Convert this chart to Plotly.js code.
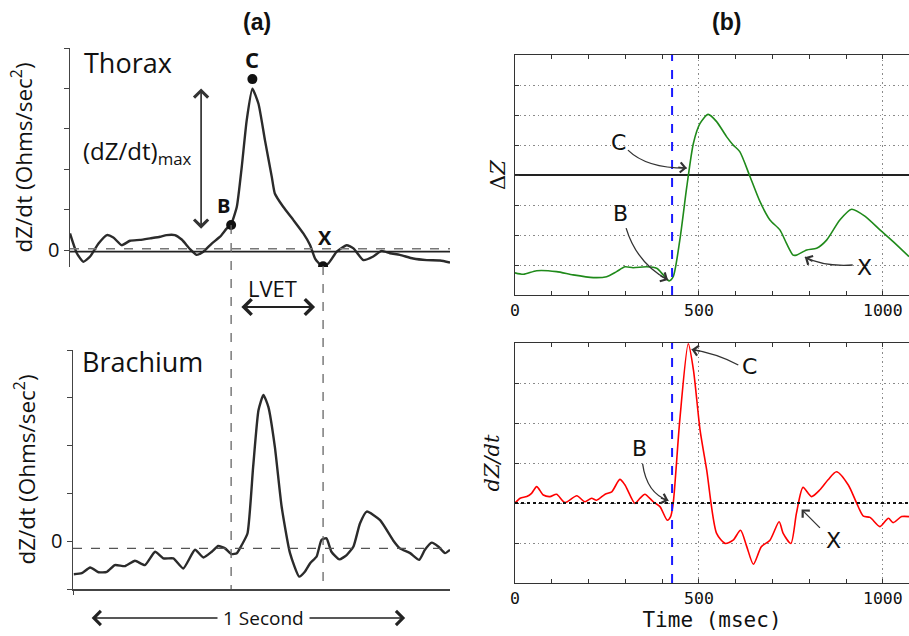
<!DOCTYPE html>
<html>
<head>
<meta charset="utf-8">
<script src="https://cdn.plot.ly/plotly-3.0.1.min.js"></script>
<style>html,body{margin:0;padding:0;background:#fff;}#chart{width:909px;height:636px;}</style>
</head>
<body>
<div id="chart"></div>
<script>
// ---------- Panel (a): Thorax dZ/dt (arbitrary units, time in ms) ----------
const thoraxT = [0,18,35,53,75,97,114,136,158,184,211,237,254,276,294,316,333,351,373,395,412,424,439,452,465,480,496,513,531,539,561,588,614,632,645,663,680,702,728,746,772,798,820,842,868,903,939,974,1000];
const thoraxV = [0.41,-0.08,-0.29,-0.16,0.16,0.37,0.31,0.12,0.23,0.25,0.29,0.33,0.37,0.37,0.26,0.02,-0.12,-0.04,0.16,0.33,0.53,0.64,1.07,2.06,3.21,3.99,3.62,2.72,1.81,1.40,1.07,0.74,0.41,0.12,-0.21,-0.40,-0.33,-0.04,0.12,0.04,-0.25,-0.16,-0.02,-0.08,-0.12,-0.21,-0.25,-0.26,-0.31];
// characteristic points B, C, X on the thorax trace
const pointLabels = ["B","C","X"];
const pointT = [424, 480, 666];
const pointV = [0.62, 4.23, -0.40];

// ---------- Panel (a): Brachium dZ/dt ----------
const brachT = [10,31,53,75,97,118,145,171,197,224,246,272,298,329,351,373,390,408,425,439,452,467,482,496,509,522,539,557,579,603,618,632,649,662,675,688,709,728,746,763,781,816,851,868,895,919,934,952,969,987,1000];
const brachV = [-0.69,-0.67,-0.55,-0.65,-0.64,-0.50,-0.52,-0.41,-0.50,-0.22,-0.36,-0.36,-0.57,-0.18,-0.34,-0.22,-0.10,-0.15,-0.27,-0.25,-0.08,0.16,1.56,2.74,3.06,2.81,1.98,0.72,-0.25,-0.74,-0.64,-0.46,-0.32,0.03,0.06,-0.22,-0.38,-0.29,-0.11,0.37,0.62,0.44,0.01,-0.15,-0.25,-0.39,-0.18,-0.03,-0.11,-0.25,-0.18];

// ---------- Panel (b): ΔZ (green) ----------
const dZT = [0,23,59,113,158,213,249,276,299,321,358,385,403,419,430,448,467,485,503,525,548,575,593,611,639,666,693,720,738,756,765,793,820,847,883,915,951,992,1028,1071];
const dZV = [-3.26,-3.31,-3.19,-3.22,-3.33,-3.42,-3.39,-3.22,-3.06,-3.09,-3.06,-3.11,-3.33,-3.53,-3.39,-2.17,-0.39,1.06,1.72,2.02,1.78,1.28,1.0,0.78,-0.06,-0.89,-1.5,-1.83,-2.28,-2.67,-2.67,-2.5,-2.44,-2.17,-1.5,-1.14,-1.37,-1.83,-2.22,-2.72];

// ---------- Panel (b): dZ/dt (red) ----------
const dzdtT = [1,14,32,45,59,77,95,113,136,168,190,208,222,245,263,285,299,326,340,353,376,394,414,423,430,448,471,485,503,521,548,571,593,613,630,648,670,693,718,729,750,765,783,806,829,851,874,906,929,947,965,992,1015,1028,1051,1071];
const dzdtV = [0.01,0.12,0.16,0.24,0.41,0.2,0.16,0.22,0.01,0.18,0.03,0.12,0.07,0.22,0.28,0.59,0.45,-0.01,0.12,0.22,0.03,-0.09,-0.43,-0.34,-0.01,2.08,3.98,3.33,1.83,0.83,-0.76,-1.01,-0.93,-0.68,-1.09,-1.53,-1.09,-0.93,-0.47,-0.76,-1.01,-0.26,0.39,0.16,0.33,0.58,0.78,0.45,-0.01,-0.33,-0.36,-0.59,-0.38,-0.49,-0.34,-0.34];

const bOnsetT = 427;   // blue dashed marker (B point) in panel (b)

const inkA = '#2b2b2b';
const fontA = 'Open Sans, DejaVu Sans, sans-serif';
const mono = 'DejaVu Sans Mono, monospace';
const serif = 'DejaVu Serif, serif';
const gridDash = '1.5px,3px';

const traces = [
  {x: thoraxT, y: thoraxV, xaxis:'x', yaxis:'y', mode:'lines', line:{color:inkA, width:2.4, shape:'spline', smoothing:0.5}, hoverinfo:'skip'},
  {x: pointT, y: pointV, xaxis:'x', yaxis:'y', mode:'markers', marker:{color:'#111', size:10}, hoverinfo:'skip'},
  {x: brachT, y: brachV, xaxis:'x2', yaxis:'y2', mode:'lines', line:{color:inkA, width:2.4, shape:'spline', smoothing:0.5}, hoverinfo:'skip'},
  {x: dZT, y: dZV, xaxis:'x3', yaxis:'y3', mode:'lines', line:{color:'#1f8a1a', width:1.6, shape:'spline', smoothing:0.7}, hoverinfo:'skip'},
  {x: dzdtT, y: dzdtV, xaxis:'x4', yaxis:'y4', mode:'lines', line:{color:'#ff0000', width:1.6, shape:'spline', smoothing:0.7}, hoverinfo:'skip'}
];

const P = (Y) => 1 - Y/636;   // helper: pixel row -> paper fraction (layout only)

const yTitleA = {text:'dZ/dt (Ohms/sec<sup>2</sup>)', font:{family:fontA, size:22.5, color:'#111'}, standoff:9};

const bAxisX = (dom, anchor, title) => ({
  domain: dom, anchor: anchor, range:[0,1071], showline:true, linecolor:'#333', linewidth:1.4, mirror:'ticks',
  tickmode:'linear', tick0:0, dtick:500, ticks:'inside', ticklen:4, tickcolor:'#333',
  minor:{tick0:0, dtick:100, ticks:'inside', ticklen:4, tickcolor:'#333', showgrid:false},
  showgrid:true, gridcolor:'#8a8a8a', griddash:gridDash, gridwidth:1, zeroline:false,
  showticklabels:true, tickfont:{family:mono, size:16.5, color:'#111'},
  title: title
});

const layout = {
  width:909, height:636, margin:{l:0,r:0,t:0,b:0}, showlegend:false,
  paper_bgcolor:'#fff', plot_bgcolor:'rgba(0,0,0,0)',
  xaxis:{domain:[70/909, 450/909], anchor:'y', range:[0,1000], visible:false},
  yaxis:{domain:[P(267), P(48)], anchor:'x', range:[-0.42,5], showline:true, linecolor:'#444', linewidth:1.5,
         tickvals:[0,1,2,3,4,5], ticktext:['0','','','','',''], ticks:'outside', ticklen:5, tickcolor:'#444',
         showgrid:false, zeroline:false, tickfont:{family:fontA, size:20, color:'#111'}, title:yTitleA},
  xaxis2:{domain:[73/909, 450/909], anchor:'y2', range:[7.9,1000], showline:true, linecolor:'#444', linewidth:1.5,
          tickvals:[7.9], ticktext:[''], ticks:'outside', ticklen:4, tickcolor:'#444', showgrid:false, zeroline:false},
  yaxis2:{domain:[P(589), P(350)], anchor:'x2', range:[-1,4], showline:true, linecolor:'#444', linewidth:1.5,
          tickvals:[-1,0,1,2,3,4], ticktext:['','0','','','',''], ticks:'outside', ticklen:5, tickcolor:'#444',
          showgrid:false, zeroline:false, tickfont:{family:fontA, size:20, color:'#111'}, title:yTitleA},
  xaxis3: bAxisX([515/909, 1], 'y3', {text:''}),
  yaxis3:{domain:[P(295), P(55)], anchor:'x3', range:[-4,4], showline:true, linecolor:'#333', linewidth:1.4, mirror:false,
          tickmode:'linear', tick0:-4, dtick:1, ticks:'inside', ticklen:4, tickcolor:'#333', showticklabels:false,
          showgrid:true, gridcolor:'#8a8a8a', griddash:gridDash, gridwidth:1,
          zeroline:true, zerolinecolor:'#222', zerolinewidth:1.4,
          title:{text:'Δ<i>Z</i>', font:{family:serif, size:21, color:'#111'}, standoff:2}},
  xaxis4: bAxisX([515/909, 1], 'y4', {text:'Time (msec)', font:{family:mono, size:21, color:'#111'}, standoff:5}),
  yaxis4:{domain:[P(583), P(343)], anchor:'x4', range:[-2,4], showline:true, linecolor:'#333', linewidth:1.4, mirror:false,
          tickmode:'linear', tick0:-2, dtick:1, ticks:'inside', ticklen:4, tickcolor:'#333', showticklabels:false,
          showgrid:true, gridcolor:'#8a8a8a', griddash:gridDash, gridwidth:1, zeroline:false,
          title:{text:'<i>dZ/dt</i>', font:{family:serif, size:21, color:'#111'}, standoff:8}},
  shapes:[
    {type:'line', xref:'x domain', yref:'y', x0:0, x1:1, y0:-0.04, y1:-0.04, line:{color:'#222', width:1.6}},
    {type:'line', xref:'x domain', yref:'y', x0:0, x1:1, y0:0.03, y1:0.03, line:{color:'#777', width:1.6, dash:'dash'}},
    {type:'line', xref:'x2 domain', yref:'y2', x0:0, x1:1, y0:-0.15, y1:-0.15, line:{color:'#555', width:1.3, dash:'dash'}},
    {type:'line', xref:'x', yref:'paper', x0:pointT[0], x1:pointT[0], y0:P(225), y1:P(589), line:{color:'#666', width:1.3, dash:'dash'}},
    {type:'line', xref:'x', yref:'paper', x0:pointT[2], x1:pointT[2], y0:P(266), y1:P(589), line:{color:'#666', width:1.3, dash:'dash'}},
    {type:'line', xref:'x3', yref:'y3 domain', x0:bOnsetT, x1:bOnsetT, y0:0, y1:1, line:{color:'#1a1aff', width:2, dash:'dash'}},
    {type:'line', xref:'x4', yref:'y4 domain', x0:bOnsetT, x1:bOnsetT, y0:0, y1:1, line:{color:'#1a1aff', width:2, dash:'dash'}},
    {type:'line', xref:'x4 domain', yref:'y4', x0:0, x1:1, y0:0, y1:0, line:{color:'#111', width:2.2, dash:'dot'}},
    {type:'path', xref:'x3', yref:'y3', path:'M307,0.83 Q358,0.22 467,0.23', line:{color:'#333', width:1.3}},
    {type:'path', xref:'x3', yref:'y3', path:'M302,-1.77 Q331,-2.94 416,-3.5', line:{color:'#333', width:1.3}},
    {type:'path', xref:'x3', yref:'y3', path:'M918,-3.0 Q838,-3.06 788,-2.74', line:{color:'#333', width:1.3}},
    {type:'path', xref:'x4', yref:'y4', path:'M607,3.45 Q548,3.74 480,3.84', line:{color:'#333', width:1.3}},
    {type:'path', xref:'x4', yref:'y4', path:'M347,0.975 Q358,0.24 417,0.06', line:{color:'#333', width:1.3}}
  ],
  annotations:[
    {text:'<b>(a)</b>', xref:'paper', yref:'paper', x:257/909, y:P(22), xanchor:'center', yanchor:'middle', showarrow:false, font:{family:'Liberation Sans, Arial, sans-serif', size:23, color:'#111'}},
    {text:'<b>(b)</b>', xref:'paper', yref:'paper', x:726/909, y:P(22), xanchor:'center', yanchor:'middle', showarrow:false, font:{family:'Liberation Sans, Arial, sans-serif', size:23, color:'#111'}},
    {text:'Thorax', xref:'x', yref:'y', x:32, y:4.64, xanchor:'left', yanchor:'middle', showarrow:false, font:{family:fontA, size:27, color:'#111'}},
    {text:'<b>C</b>', xref:'x', yref:'y', x:pointT[1], y:4.74, showarrow:false, font:{family:fontA, size:22, color:'#111'}},
    {text:'<b>B</b>', xref:'x', yref:'y', x:405, y:1.09, showarrow:false, font:{family:fontA, size:20, color:'#111'}},
    {text:'<b>X</b>', xref:'x', yref:'y', x:671, y:0.30, showarrow:false, font:{family:fontA, size:20, color:'#111'}},
    {text:'(dZ/dt)<sub>max</sub>', xref:'x', yref:'y', x:30, y:2.42, xanchor:'left', yanchor:'middle', showarrow:false, font:{family:fontA, size:24, color:'#111'}},
    {text:'', xref:'x', yref:'y', axref:'x', ayref:'y', x:345, y:4.0, ax:345, ay:0.49, showarrow:true, arrowside:'end+start',
      arrowhead:4, startarrowhead:4, arrowsize:1.6, startarrowsize:1.6, arrowwidth:1.7, arrowcolor:'#333'},
    {text:'LVET', xref:'x', yref:'paper', x:534, y:P(288), xanchor:'center', yanchor:'middle', showarrow:false, font:{family:fontA, size:22, color:'#111'}},
    {text:'', xref:'x', yref:'paper', axref:'x', ayref:'paper', x:645, y:P(307), ax:447, ay:P(307), showarrow:true, arrowside:'end+start',
      arrowhead:4, startarrowhead:4, arrowsize:1.6, startarrowsize:1.6, arrowwidth:1.9, arrowcolor:'#222'},
    {text:'Brachium', xref:'x2', yref:'y2', x:26, y:3.75, xanchor:'left', yanchor:'middle', showarrow:false, font:{family:fontA, size:27, color:'#111'}},
    {text:'', xref:'x2', yref:'paper', axref:'x2', ayref:'paper', x:882, y:P(618), ax:53, ay:P(618), showarrow:true, arrowside:'end+start',
      arrowhead:4, startarrowhead:4, arrowsize:1.6, startarrowsize:1.6, arrowwidth:1.7, arrowcolor:'#222'},
    {text:'1 Second', xref:'x2', yref:'paper', x:508, y:P(618), xanchor:'center', yanchor:'middle', showarrow:false, bgcolor:'#fff', borderpad:5, font:{family:fontA, size:19, color:'#111'}},
    {text:'C', xref:'x3', yref:'y3', x:280, y:1.1, showarrow:false, font:{family:'DejaVu Sans, sans-serif', size:22, color:'#111'}},
    {text:'B', xref:'x3', yref:'y3', x:288, y:-1.27, showarrow:false, font:{family:'DejaVu Sans, sans-serif', size:22, color:'#111'}},
    {text:'X', xref:'x3', yref:'y3', x:951, y:-3.07, showarrow:false, font:{family:'DejaVu Sans, sans-serif', size:22, color:'#111'}},
    {text:'', xref:'x3', yref:'y3', x:467, y:0.23, ax:-10, ay:-1, showarrow:true, arrowhead:4, arrowsize:1.5, arrowwidth:1.3, arrowcolor:'#333'},
    {text:'', xref:'x3', yref:'y3', x:416, y:-3.5, ax:-9, ay:-5, showarrow:true, arrowhead:4, arrowsize:1.5, arrowwidth:1.3, arrowcolor:'#333'},
    {text:'', xref:'x3', yref:'y3', x:788, y:-2.74, ax:9, ay:5, showarrow:true, arrowhead:4, arrowsize:1.5, arrowwidth:1.3, arrowcolor:'#333'},
    {text:'C', xref:'x4', yref:'y4', x:637, y:3.41, showarrow:false, font:{family:'DejaVu Sans, sans-serif', size:22, color:'#111'}},
    {text:'B', xref:'x4', yref:'y4', x:338, y:1.37, showarrow:false, font:{family:'DejaVu Sans, sans-serif', size:22, color:'#111'}},
    {text:'X', xref:'x4', yref:'y4', x:865, y:-0.93, showarrow:false, font:{family:'DejaVu Sans, sans-serif', size:22, color:'#111'}},
    {text:'', xref:'x4', yref:'y4', x:480, y:3.84, ax:10, ay:2, showarrow:true, arrowhead:4, arrowsize:1.5, arrowwidth:1.3, arrowcolor:'#333'},
    {text:'', xref:'x4', yref:'y4', x:417, y:0.06, ax:-9, ay:-3, showarrow:true, arrowhead:4, arrowsize:1.5, arrowwidth:1.3, arrowcolor:'#333'},
    {text:'', xref:'x4', yref:'y4', axref:'x4', ayref:'y4', x:779, y:-0.16, ax:833, ay:-0.66, showarrow:true, arrowhead:4, arrowsize:1.5, arrowwidth:1.3, arrowcolor:'#333'}
  ]
};

Plotly.newPlot('chart', traces, layout, {displayModeBar:false, staticPlot:true});
</script>
</body>
</html>
